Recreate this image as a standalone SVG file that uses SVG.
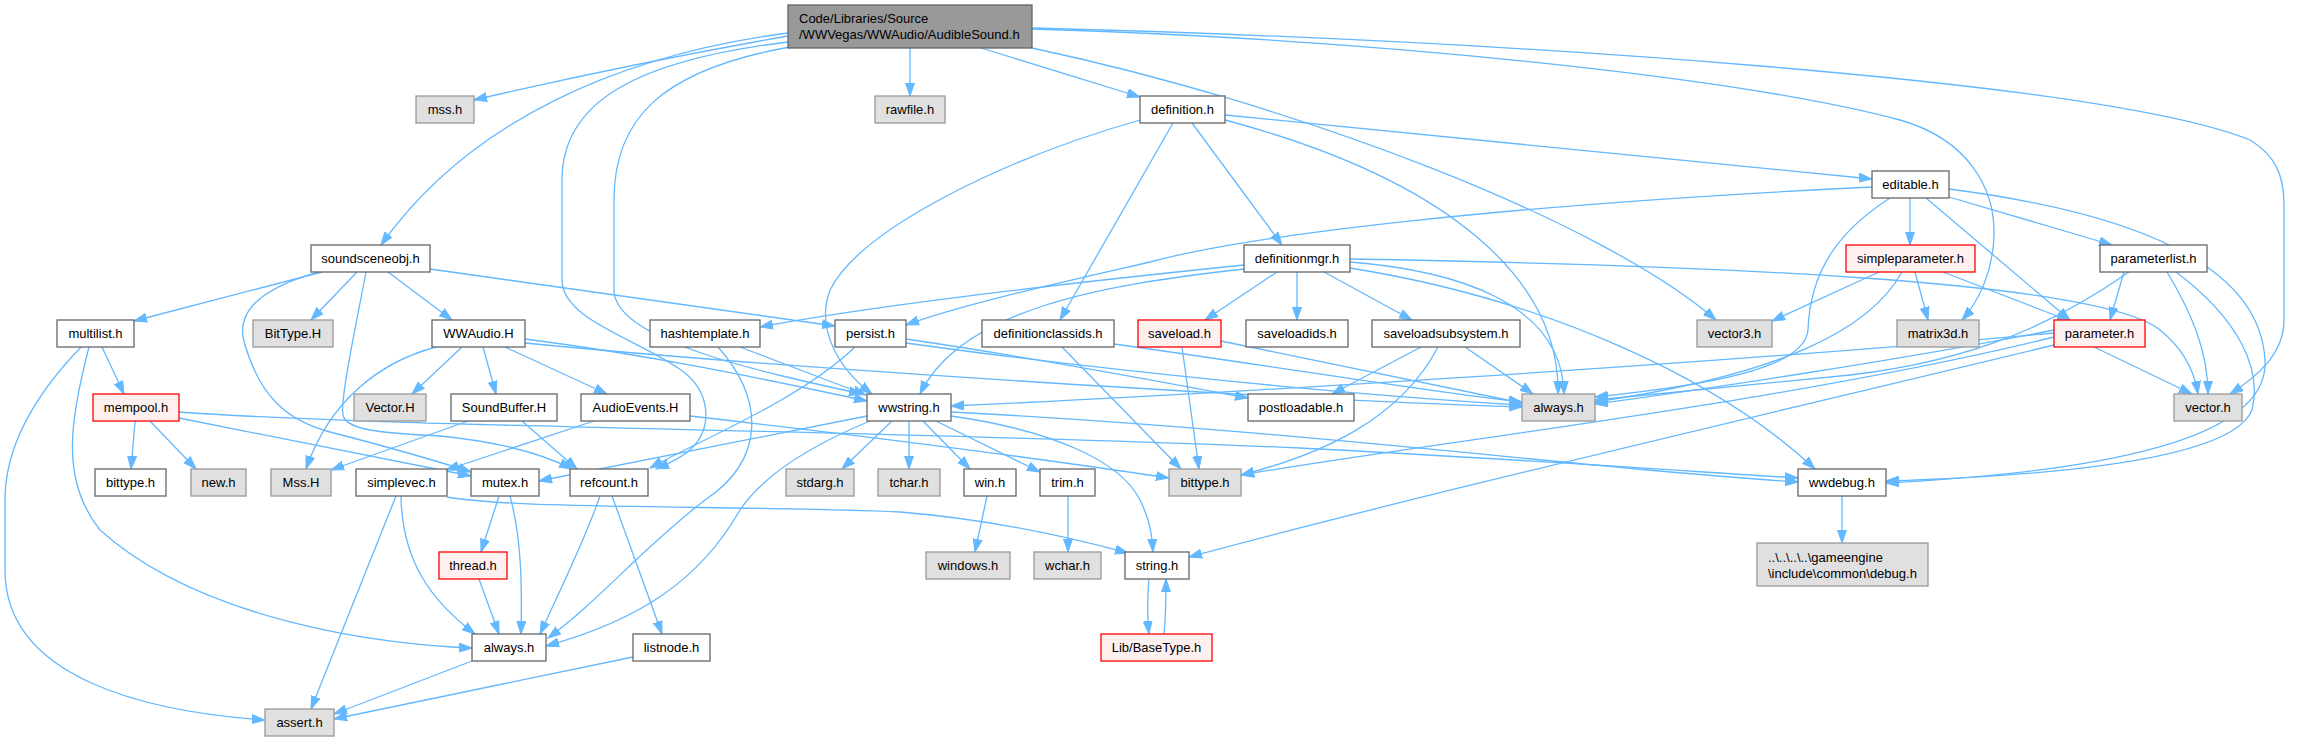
<svg xmlns="http://www.w3.org/2000/svg" width="2308" height="741" viewBox="0 0 2308 741">
<style>
.e{fill:none;stroke:#63b8ff;stroke-width:1.3;marker-end:url(#a)}
rect{stroke-width:1.3}
.w{fill:#fff;stroke:#666}
.g{fill:#e0e0e0;stroke:#999}
.r{fill:#fff0f0;stroke:#f00}
.k{fill:#999;stroke:#666}
text{font-family:"Liberation Sans",Arial,Helvetica,sans-serif;font-size:13px;fill:#000;text-anchor:middle}
text.l{text-anchor:start}
</style>
<defs>
<marker id="a" markerWidth="14" markerHeight="10" refX="13" refY="5" orient="auto" markerUnits="userSpaceOnUse"><path d="M0,0.5 L13,5 L0,9.5 z" fill="#63b8ff" stroke="#63b8ff" stroke-width="1"/></marker>
</defs>
<rect width="2308" height="741" fill="#fff"/>
<g id="edges">
<path class="e" d="M788,36 C680,55 560,80 474,100"/>
<path class="e" d="M910,48 L910,96"/>
<path class="e" d="M981,48 L1140,97"/>
<path class="e" d="M788,33 C620,55 470,120 381,245"/>
<path class="e" d="M788,42 C640,60 562,100 562,180 L562,280 C562,320 640,340 681,370 C712,392 712,428 692,448 C682,458 668,464 656,469"/>
<path class="e" d="M790,47 C660,70 614,120 614,200 L614,290 C614,340 760,372 862,394"/>
<path class="e" d="M1032,48 C1300,105 1600,220 1716,320"/>
<path class="e" d="M1032,29 C1400,40 1750,80 1900,120 C1970,140 1995,190 1994,235 C1993,270 1980,300 1962,320"/>
<path class="e" d="M1032,28 C1500,40 2100,80 2250,140 C2275,155 2284,175 2284,205 L2284,320 C2284,355 2255,378 2230,394"/>
<path class="e" d="M322,272 L134,321"/>
<path class="e" d="M357,272 L311,320"/>
<path class="e" d="M388,272 L452,320"/>
<path class="e" d="M430,269 L835,326"/>
<path class="e" d="M318,272 C255,290 235,315 245,345 C260,395 285,420 330,432 C400,450 440,462 471,472"/>
<path class="e" d="M366,272 C355,330 340,400 343,415 C346,430 380,433 440,436 C500,442 545,455 572,469"/>
<path class="e" d="M436,347 C380,362 330,400 306,469"/>
<path class="e" d="M462,347 L412,394"/>
<path class="e" d="M483,347 L496,394"/>
<path class="e" d="M505,347 L607,394"/>
<path class="e" d="M525,339 C650,355 760,378 867,401"/>
<path class="e" d="M525,343 C800,370 1300,400 1522,407"/>
<path class="e" d="M468,421 L331,470"/>
<path class="e" d="M522,421 L577,469"/>
<path class="e" d="M594,421 L446,470"/>
<path class="e" d="M690,416 C900,440 1050,460 1169,478"/>
<path class="e" d="M102,347 L124,394"/>
<path class="e" d="M89,347 C70,420 60,480 100,530 C200,620 380,645 472,648"/>
<path class="e" d="M81,347 C30,400 5,450 5,500 L5,570 C5,680 150,712 265,720"/>
<path class="e" d="M135,421 L131,469"/>
<path class="e" d="M150,421 L196,469"/>
<path class="e" d="M179,418 L471,476"/>
<path class="e" d="M179,412 C400,428 900,430 1300,448 C1500,458 1700,472 1798,478"/>
<path class="e" d="M867,416 L539,481"/>
<path class="e" d="M870,421 C800,450 760,480 740,510 C700,580 640,620 546,646"/>
<path class="e" d="M892,421 L842,469"/>
<path class="e" d="M909,421 L909,469"/>
<path class="e" d="M923,421 L970,469"/>
<path class="e" d="M936,421 L1040,472"/>
<path class="e" d="M951,416 C1050,430 1120,460 1140,500 C1150,520 1152,535 1153,552"/>
<path class="e" d="M951,412 C1300,430 1600,470 1798,482"/>
<path class="e" d="M740,347 L866,395"/>
<path class="e" d="M718,347 C765,400 765,460 705,500 C640,550 600,600 548,638"/>
<path class="e" d="M855,347 C800,400 700,440 650,468"/>
<path class="e" d="M906,339 C1050,360 1150,380 1248,398"/>
<path class="e" d="M906,343 C1100,370 1350,395 1522,405"/>
<path class="e" d="M1225,115 L1872,179"/>
<path class="e" d="M1225,120 C1450,180 1560,280 1558,394"/>
<path class="e" d="M1140,120 C1000,160 860,230 830,290 C815,330 840,370 872,394"/>
<path class="e" d="M1173,123 C1140,180 1100,250 1060,320"/>
<path class="e" d="M1192,123 L1282,245"/>
<path class="e" d="M1872,187 C1500,205 1250,235 1150,262 C1050,285 960,305 906,325"/>
<path class="e" d="M1890,198 C1840,230 1810,270 1808,330 C1805,370 1700,386 1595,397"/>
<path class="e" d="M1910,198 L1910,245"/>
<path class="e" d="M1926,198 L2070,320"/>
<path class="e" d="M1949,197 L2112,245"/>
<path class="e" d="M1949,189 C2150,215 2260,270 2265,360 C2270,440 2100,472 1886,483"/>
<path class="e" d="M2124,272 L2110,320"/>
<path class="e" d="M2167,272 C2190,310 2208,350 2208,394"/>
<path class="e" d="M2176,272 C2240,320 2262,370 2252,410 C2232,460 2050,476 1886,481"/>
<path class="e" d="M2129,272 C2060,320 1980,360 1850,375 C1750,385 1650,395 1595,400"/>
<path class="e" d="M1879,272 L1772,321"/>
<path class="e" d="M1915,272 L1928,320"/>
<path class="e" d="M1943,272 L2070,321"/>
<path class="e" d="M1902,272 C1870,330 1780,375 1595,402"/>
<path class="e" d="M2094,347 L2192,394"/>
<path class="e" d="M2054,330 C1900,360 1700,390 1595,404"/>
<path class="e" d="M2054,333 C1700,365 1200,395 951,406"/>
<path class="e" d="M2054,337 C1800,400 1450,440 1241,475"/>
<path class="e" d="M2054,345 C1700,430 1400,500 1189,557"/>
<path class="e" d="M1244,265 C1000,290 850,310 760,327"/>
<path class="e" d="M1244,269 C1100,285 960,310 920,394"/>
<path class="e" d="M1277,272 L1205,320"/>
<path class="e" d="M1297,272 L1297,320"/>
<path class="e" d="M1324,272 L1412,320"/>
<path class="e" d="M1350,262 C1450,270 1562,300 1564,394"/>
<path class="e" d="M1350,259 C1700,265 2100,280 2160,330 C2185,350 2195,375 2198,394"/>
<path class="e" d="M1350,268 C1550,300 1720,380 1815,469"/>
<path class="e" d="M1221,341 L1522,403"/>
<path class="e" d="M1182,347 L1199,469"/>
<path class="e" d="M1421,347 L1332,394"/>
<path class="e" d="M1465,347 L1533,394"/>
<path class="e" d="M1438,347 C1400,420 1320,455 1241,475"/>
<path class="e" d="M1062,347 L1181,469"/>
<path class="e" d="M1114,344 C1300,370 1450,395 1522,402"/>
<path class="e" d="M600,496 C585,540 560,590 540,634"/>
<path class="e" d="M612,496 L662,634"/>
<path class="e" d="M499,496 L481,552"/>
<path class="e" d="M510,496 C522,540 522,590 521,634"/>
<path class="e" d="M479,579 L499,634"/>
<path class="e" d="M401,496 C402,560 430,600 475,634"/>
<path class="e" d="M396,496 L311,709"/>
<path class="e" d="M447,497 C520,510 750,505 900,512 C1000,520 1080,540 1128,553"/>
<path class="e" d="M472,661 L334,714"/>
<path class="e" d="M633,657 L334,719"/>
<path class="e" d="M987,496 L975,552"/>
<path class="e" d="M1068,496 L1068,552"/>
<path class="e" d="M1149,579 C1147,600 1147,615 1149,634"/>
<path class="e" d="M1164,634 C1166,615 1166,598 1166,579"/>
<path class="e" d="M1842,496 L1842,543"/>
</g>
<g id="root"><rect class="k" x="788" y="5" width="244" height="43"/><text class="l" x="799" y="23">Code/Libraries/Source</text><text class="l" x="799" y="39">/WWVegas/WWAudio/AudibleSound.h</text></g>
<g id="mss_h"><rect class="g" x="416" y="96" width="58" height="27"/><text x="445" y="114">mss.h</text></g>
<g id="rawfile"><rect class="g" x="875" y="96" width="70" height="27"/><text x="910" y="114">rawfile.h</text></g>
<g id="definition"><rect class="w" x="1140" y="96" width="85" height="27"/><text x="1182.5" y="114">definition.h</text></g>
<g id="editable"><rect class="w" x="1872" y="171" width="77" height="27"/><text x="1910.5" y="189">editable.h</text></g>
<g id="soundsceneobj"><rect class="w" x="311" y="245" width="119" height="27"/><text x="370.5" y="263">soundsceneobj.h</text></g>
<g id="definitionmgr"><rect class="w" x="1244" y="245" width="106" height="27"/><text x="1297" y="263">definitionmgr.h</text></g>
<g id="simpleparameter"><rect class="r" x="1846" y="245" width="129" height="27"/><text x="1910.5" y="263">simpleparameter.h</text></g>
<g id="parameterlist"><rect class="w" x="2100" y="245" width="107" height="27"/><text x="2153.5" y="263">parameterlist.h</text></g>
<g id="multilist"><rect class="w" x="57" y="320" width="77" height="27"/><text x="95.5" y="338">multilist.h</text></g>
<g id="BitType_H"><rect class="g" x="253" y="320" width="80" height="27"/><text x="293" y="338">BitType.H</text></g>
<g id="WWAudio"><rect class="w" x="432" y="320" width="93" height="27"/><text x="478.5" y="338">WWAudio.H</text></g>
<g id="hashtemplate"><rect class="w" x="650" y="320" width="110" height="27"/><text x="705" y="338">hashtemplate.h</text></g>
<g id="persist"><rect class="w" x="835" y="320" width="71" height="27"/><text x="870.5" y="338">persist.h</text></g>
<g id="definitionclassids"><rect class="w" x="982" y="320" width="132" height="27"/><text x="1048" y="338">definitionclassids.h</text></g>
<g id="saveload"><rect class="r" x="1138" y="320" width="83" height="27"/><text x="1179.5" y="338">saveload.h</text></g>
<g id="saveloadids"><rect class="w" x="1246" y="320" width="102" height="27"/><text x="1297" y="338">saveloadids.h</text></g>
<g id="saveloadsubsystem"><rect class="w" x="1372" y="320" width="148" height="27"/><text x="1446" y="338">saveloadsubsystem.h</text></g>
<g id="vector3"><rect class="g" x="1697" y="320" width="75" height="27"/><text x="1734.5" y="338">vector3.h</text></g>
<g id="matrix3d"><rect class="g" x="1897" y="320" width="82" height="27"/><text x="1938" y="338">matrix3d.h</text></g>
<g id="parameter"><rect class="r" x="2054" y="320" width="91" height="27"/><text x="2099.5" y="338">parameter.h</text></g>
<g id="mempool"><rect class="r" x="93" y="394" width="86" height="27"/><text x="136" y="412">mempool.h</text></g>
<g id="Vector_H"><rect class="g" x="354" y="394" width="72" height="27"/><text x="390" y="412">Vector.H</text></g>
<g id="SoundBuffer"><rect class="w" x="451" y="394" width="106" height="27"/><text x="504" y="412">SoundBuffer.H</text></g>
<g id="AudioEvents"><rect class="w" x="581" y="394" width="109" height="27"/><text x="635.5" y="412">AudioEvents.H</text></g>
<g id="wwstring"><rect class="w" x="867" y="394" width="84" height="27"/><text x="909" y="412">wwstring.h</text></g>
<g id="postloadable"><rect class="w" x="1248" y="394" width="106" height="27"/><text x="1301" y="412">postloadable.h</text></g>
<g id="always_g"><rect class="g" x="1522" y="394" width="73" height="27"/><text x="1558.5" y="412">always.h</text></g>
<g id="vector_h"><rect class="g" x="2174" y="394" width="68" height="27"/><text x="2208" y="412">vector.h</text></g>
<g id="bittype_w"><rect class="w" x="95" y="469" width="71" height="27"/><text x="130.5" y="487">bittype.h</text></g>
<g id="new_h"><rect class="g" x="191" y="469" width="55" height="27"/><text x="218.5" y="487">new.h</text></g>
<g id="Mss_H"><rect class="g" x="271" y="469" width="60" height="27"/><text x="301" y="487">Mss.H</text></g>
<g id="simplevec"><rect class="w" x="356" y="469" width="91" height="27"/><text x="401.5" y="487">simplevec.h</text></g>
<g id="mutex"><rect class="w" x="471" y="469" width="68" height="27"/><text x="505" y="487">mutex.h</text></g>
<g id="refcount"><rect class="w" x="570" y="469" width="78" height="27"/><text x="609" y="487">refcount.h</text></g>
<g id="stdarg"><rect class="g" x="786" y="469" width="68" height="27"/><text x="820" y="487">stdarg.h</text></g>
<g id="tchar"><rect class="g" x="878" y="469" width="62" height="27"/><text x="909" y="487">tchar.h</text></g>
<g id="win"><rect class="w" x="964" y="469" width="52" height="27"/><text x="990" y="487">win.h</text></g>
<g id="trim"><rect class="w" x="1040" y="469" width="55" height="27"/><text x="1067.5" y="487">trim.h</text></g>
<g id="bittype_g"><rect class="g" x="1169" y="469" width="72" height="27"/><text x="1205" y="487">bittype.h</text></g>
<g id="wwdebug"><rect class="w" x="1798" y="469" width="88" height="27"/><text x="1842" y="487">wwdebug.h</text></g>
<g id="thread"><rect class="r" x="439" y="552" width="68" height="27"/><text x="473" y="570">thread.h</text></g>
<g id="windows"><rect class="g" x="926" y="552" width="84" height="27"/><text x="968" y="570">windows.h</text></g>
<g id="wchar"><rect class="g" x="1034" y="552" width="67" height="27"/><text x="1067.5" y="570">wchar.h</text></g>
<g id="string_h"><rect class="w" x="1125" y="552" width="64" height="27"/><text x="1157" y="570">string.h</text></g>
<g id="debug_h"><rect class="g" x="1757" y="543" width="171" height="43"/><text class="l" x="1768" y="562">..\..\..\..\gameengine</text><text class="l" x="1768" y="578">\include\common\debug.h</text></g>
<g id="always_w"><rect class="w" x="472" y="634" width="74" height="27"/><text x="509" y="652">always.h</text></g>
<g id="listnode"><rect class="w" x="633" y="634" width="77" height="27"/><text x="671.5" y="652">listnode.h</text></g>
<g id="BaseType"><rect class="r" x="1101" y="634" width="111" height="27"/><text x="1156.5" y="652">Lib/BaseType.h</text></g>
<g id="assert_h"><rect class="g" x="265" y="709" width="69" height="27"/><text x="299.5" y="727">assert.h</text></g>
</svg>
